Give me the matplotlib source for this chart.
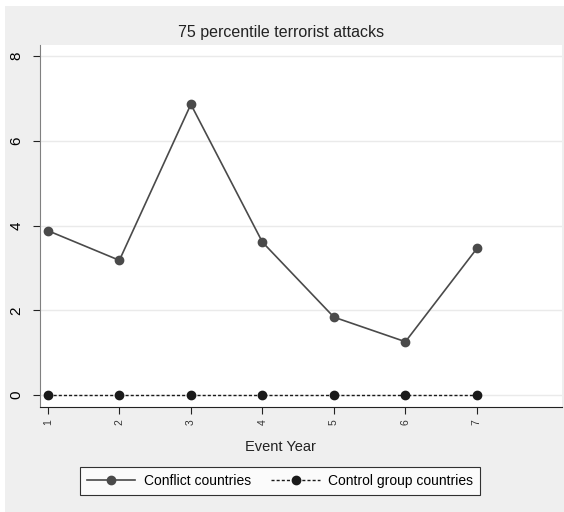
import matplotlib.pyplot as plt
from matplotlib.patches import Rectangle

plt.rcParams['font.family'] = ['Liberation Sans', 'DejaVu Sans']

# data
event_year = [1, 2, 3, 4, 5, 6, 7]
conflict = [3.88, 3.18, 6.86, 3.61, 1.84, 1.26, 3.46]
control = [0, 0, 0, 0, 0, 0, 0]
y_ticks = [0, 2, 4, 6, 8]

W, H = 564, 512
fig = plt.figure(figsize=(W / 100, H / 100), dpi=100, facecolor='white')

# gray graph region (Stata-like)
fig.patches.append(Rectangle((5 / W, 0), 1 - 5 / W, 1 - 6 / H,
                             transform=fig.transFigure, facecolor='#efefef',
                             edgecolor='none', zorder=-10))

ax = fig.add_axes([40 / W, 1 - 407 / H, (562 - 40) / W, (407 - 45) / H])
ax.set_facecolor('white')

ax.plot(event_year, conflict, color='#4a4a4a', lw=1.2, marker='o', ms=6,
        label='Conflict countries', zorder=3)
ax.plot(event_year, control, color='#1a1a1a', lw=1.0, ls=(0, (2.2, 1.5)),
        marker='o', ms=6, label='Control group countries', zorder=3)

ax.set_xlim(0.89, 8.19)
ax.set_ylim(-0.28, 8.26)

ax.set_yticks(y_ticks)
ax.set_yticklabels([str(v) for v in y_ticks], rotation=90, va='center', fontsize=11)
ax.set_xticks(event_year)
ax.set_xticklabels([str(v) for v in event_year], rotation=90, fontsize=7.5,
                   color='#333333')

ax.grid(axis='y', color='#eaeaea', lw=1)
ax.set_axisbelow(True)
for s in ['top', 'right']:
    ax.spines[s].set_visible(False)
ax.spines['left'].set_color('#808080')
ax.spines['bottom'].set_color('#222222')
ax.tick_params(axis='y', length=5, pad=7, color='#222222')
ax.tick_params(axis='x', length=5, pad=4, color='#222222')

fig.text(280 / W, 1 - 447 / H, 'Event Year', ha='center', va='center',
         fontsize=10.5, color='#222222')
fig.text(281 / W, 1 - 33 / H, '75 percentile terrorist attacks', ha='center',
         va='center', fontsize=11.5, color='#222222')

leg = fig.legend(loc='center', bbox_to_anchor=(280 / W, 1 - 481 / H), ncol=2,
                 frameon=True, fancybox=False, fontsize=10, handlelength=3.5,
                 columnspacing=1.5, handletextpad=0.6, borderpad=0.5)
leg.get_frame().set_edgecolor('black')
leg.get_frame().set_linewidth(0.8)

fig.savefig('out.png', dpi=100, facecolor=fig.get_facecolor())
